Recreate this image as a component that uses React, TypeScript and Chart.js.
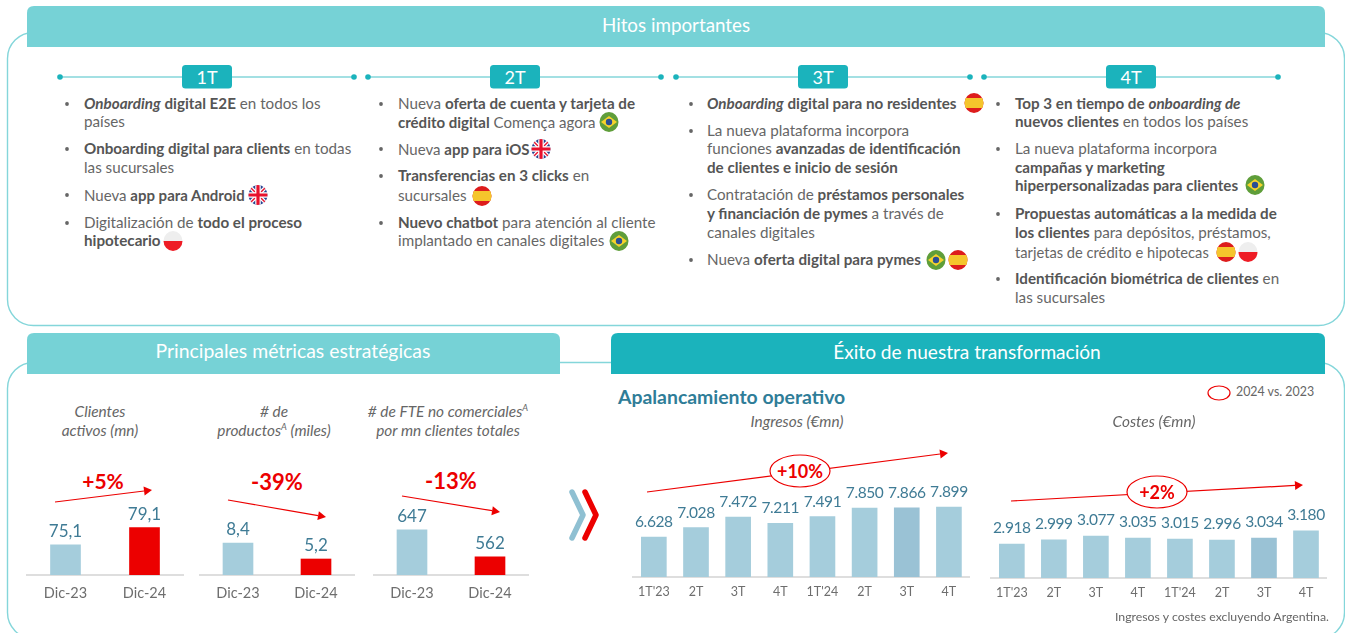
import React, { useEffect, useRef } from "react";
import { Chart, registerables } from "chart.js";

Chart.register(...registerables);

const FONT = "Lato, 'Noto Sans', sans-serif";
const LIGHT = "#a5cddc";
const DARK = "#9ac2d5";
const RED = "#ec0000";
const VALUE = "#3f7b95";

const decCategories = ["Dic-23", "Dic-24"];
const quarterCategories = ["1T'23", "2T", "3T", "4T", "1T'24", "2T", "3T", "4T"];
const clientsValues = [75.1, 79.1];
const productsValues = [8.4, 5.2];
const fteValues = [647, 562];
const incomeValues = [6628, 7028, 7472, 7211, 7491, 7850, 7866, 7899];
const costValues = [2918, 2999, 3077, 3035, 3015, 2996, 3034, 3180];

const miniColors = [LIGHT, RED];
const quarterColors = [LIGHT, LIGHT, LIGHT, LIGHT, LIGHT, LIGHT, DARK, LIGHT];

type Cfg = {
  left: number; top: number; width: number; base: number;
  cats: string[]; vals: number[]; colors: string[];
  min: number; max: number; bar: number; valSize: number; tickSize: number; gap: number; pad: number; ls: number;
};

const charts: Cfg[] = [
  { left: 26, top: 500, width: 158, base: 575, cats: decCategories, vals: clientsValues, colors: miniColors, min: 68, max: 85.6, bar: 30, valSize: 17, tickSize: 14.5, gap: 13, pad: 10, ls: 0 },
  { left: 199, top: 500, width: 156, base: 575, cats: decCategories, vals: productsValues, colors: miniColors, min: 2, max: 17, bar: 30, valSize: 17, tickSize: 14.5, gap: 13, pad: 10, ls: 0 },
  { left: 373, top: 500, width: 156, base: 575, cats: decCategories, vals: fteValues, colors: miniColors, min: 505, max: 741, bar: 30, valSize: 17, tickSize: 14.5, gap: 13, pad: 10, ls: 0 },
  { left: 631, top: 485, width: 339, base: 577, cats: quarterCategories, vals: incomeValues, colors: quarterColors, min: 4932, max: 8833, bar: 25, valSize: 15.5, tickSize: 12.5, gap: 15, pad: 7, ls: -0.4 },
  { left: 989, top: 498, width: 338, base: 578, cats: quarterCategories, vals: costValues, colors: quarterColors, min: 2238, max: 3838, bar: 25, valSize: 15.5, tickSize: 12.5, gap: 16, pad: 7, ls: -0.4 },
];

const bulletDots: [number, number][] = [
  [67, 104], [67, 149], [67, 195], [67, 223],
  [381, 104], [381, 149], [381, 176], [381, 223],
  [691, 104], [691, 131], [691, 195], [691, 260],
  [998, 104], [998, 149], [998, 214], [998, 279],
];

const bodyLines: [number, number, string, number?][] = [
  [84, 104, "~Onboarding~ **digital E2E** en todos los"],
  [84, 122, "países"],
  [84, 149, "**Onboarding digital para clients** en todas"],
  [84, 168, "las sucursales"],
  [84, 195, "Nueva **app para Android**", 15],
  [84, 223, "Digitalización de **todo el proceso**"],
  [84, 241, "**hipotecario**"],
  [398, 104, "Nueva **oferta de cuenta y tarjeta de**"],
  [398, 122, "**crédito digital** Comença agora", 15],
  [398, 149, "Nueva **app para iOS**", 15],
  [398, 176, "**Transferencias en 3 clicks** en"],
  [398, 196, "sucursales"],
  [398, 223, "**Nuevo chatbot** para atención al cliente"],
  [398, 241, "implantado en canales digitales"],
  [707, 104, "~Onboarding~ **digital para no residentes**"],
  [707, 131, "La nueva plataforma incorpora"],
  [707, 149, "funciones **avanzadas de identificación**"],
  [707, 168, "**de clientes e inicio de sesión**"],
  [707, 195, "Contratación de **préstamos personales**"],
  [707, 214, "**y financiación de pymes** a través de"],
  [707, 233, "canales digitales"],
  [707, 260, "Nueva **oferta digital para pymes**"],
  [1015, 104, "**Top 3 en tiempo de** ~onboarding de~"],
  [1015, 122, "**nuevos clientes** en todos los países"],
  [1015, 149, "La nueva plataforma incorpora"],
  [1015, 168, "**campañas y marketing**"],
  [1015, 186, "**hiperpersonalizadas para clientes**"],
  [1015, 214, "**Propuestas automáticas a la medida de**"],
  [1015, 233, "**los clientes** para depósitos, préstamos,"],
  [1015, 252, "tarjetas de crédito e hipotecas", 14.7],
  [1015, 279, "**Identificación biométrica de clientes** en"],
  [1015, 298, "las sucursales"],
];

const quarterPills: [string, number][] = [["1T", 207], ["2T", 515], ["3T", 823], ["4T", 1131]];
const timelines: [number, number][] = [[60, 354], [368, 661], [676, 970], [984, 1278]];

const flagSpots: [string, number, number][] = [
  ["uk", 258, 195], ["pl", 173, 241], ["br", 609, 122], ["uk", 541, 149],
  ["es", 482, 196], ["br", 619, 241], ["es", 974, 103], ["br", 936, 260],
  ["es", 958, 260], ["br", 1255, 185], ["es", 1226, 252], ["pl", 1248, 252],
];

const renderRich = (s: string) => {
  const parts = s.split(/(\*\*[^*]+\*\*|~[^~]+~|\^[^^]+\^)/g).filter(Boolean);
  return parts.map((p, i) => {
    if (p.startsWith("**")) return <b key={i} style={{ fontWeight: 700, color: "#555" }}>{p.slice(2, -2)}</b>;
    if (p.startsWith("~")) return <b key={i} style={{ fontWeight: 700, fontStyle: "italic", color: "#555" }}>{p.slice(1, -1)}</b>;
    if (p.startsWith("^")) return <sup key={i} style={{ fontSize: "0.6em", lineHeight: 0 }}>{p.slice(1, -1)}</sup>;
    return <span key={i}>{p}</span>;
  });
};

const T = ({ x, y, s, size = 15.2, color = "#666", center = false, right = false, bold = false, italic = false }:
  { x: number; y: number; s: string; size?: number; color?: string; center?: boolean; right?: boolean; bold?: boolean; italic?: boolean }) => (
  <div style={{
    position: "absolute", left: x, top: y, whiteSpace: "nowrap", lineHeight: 1, fontSize: size, color,
    fontWeight: bold ? 700 : 400, fontStyle: italic ? "italic" : "normal",
    transform: `translate(${center ? "-50%" : right ? "-100%" : "0"}, -50%)`,
  }}>{renderRich(s)}</div>
);

const Flag = ({ kind, x, y }: { kind: string; x: number; y: number }) => {
  const id = `clip-${kind}-${x}-${y}`;
  return (
    <g transform={`translate(${x} ${y})`}>
      <clipPath id={id}><ellipse cx={0} cy={0} rx={9.5} ry={10} /></clipPath>
      <g clipPath={`url(#${id})`}>
        {kind === "es" && <>
          <rect x={-10} y={-10} width={20} height={20} fill="#dd1c1c" />
          <rect x={-10} y={-5} width={20} height={10} fill="#f5c52c" />
        </>}
        {kind === "pl" && <>
          <rect x={-10} y={-10} width={20} height={10} fill="#eeeeee" />
          <rect x={-10} y={0} width={20} height={10} fill="#ee1c25" />
        </>}
        {kind === "br" && <>
          <rect x={-10} y={-10} width={20} height={20} fill="#5f9e3a" />
          <polygon points="-8,0 0,-6 8,0 0,6" fill="#f6d32c" />
          <circle r={3.2} fill="#2a4f94" />
        </>}
        {kind === "uk" && <>
          <rect x={-10} y={-10} width={20} height={20} fill="#27408f" />
          <path d="M-10,-10L10,10M10,-10L-10,10" stroke="#fff" strokeWidth={4} />
          <path d="M-10,-10L10,10M10,-10L-10,10" stroke="#e8112d" strokeWidth={1.4} />
          <path d="M0,-10V10M-10,0H10" stroke="#fff" strokeWidth={5.5} />
          <path d="M0,-10V10M-10,0H10" stroke="#e8112d" strokeWidth={3.2} />
        </>}
      </g>
    </g>
  );
};

const Arrow = ({ x1, y1, x2, y2 }: { x1: number; y1: number; x2: number; y2: number }) => {
  const a = Math.atan2(y2 - y1, x2 - x1);
  const l = 8, w = 4.5;
  const bx = x2 - l * Math.cos(a), by = y2 - l * Math.sin(a);
  const px = -Math.sin(a) * w, py = Math.cos(a) * w;
  return (
    <g>
      <line x1={x1} y1={y1} x2={bx} y2={by} stroke={RED} strokeWidth={1.2} />
      <polygon points={`${x2},${y2} ${bx + px},${by + py} ${bx - px},${by - py}`} fill={RED} />
    </g>
  );
};

const AXIS_H = 40;

const BarChart = ({ c }: { c: Cfg }) => {
  const ref = useRef<HTMLCanvasElement>(null);
  useEffect(() => {
    const labelPlugin = {
      id: "valueLabels",
      afterDatasetsDraw(chart: any) {
        const ctx = chart.ctx;
        const meta = chart.getDatasetMeta(0);
        ctx.save();
        ctx.font = `${c.valSize}px ${FONT}`;
        (ctx as any).letterSpacing = `${c.ls}px`;
        ctx.fillStyle = VALUE;
        ctx.textAlign = "center";
        ctx.textBaseline = "middle";
        meta.data.forEach((el: any, i: number) => {
          ctx.fillText(c.vals[i].toLocaleString("de-DE"), el.x, el.y - c.gap);
        });
        ctx.restore();
      },
    };
    const chart = new Chart(ref.current!, {
      type: "bar",
      data: {
        labels: c.cats,
        datasets: [{ data: c.vals, backgroundColor: c.colors, barThickness: c.bar, borderWidth: 0 }],
      },
      options: {
        animation: false,
        responsive: false,
        maintainAspectRatio: false,
        layout: { padding: 0 },
        plugins: { legend: { display: false }, tooltip: { enabled: false } },
        scales: {
          y: { display: false, min: c.min, max: c.max },
          x: {
            grid: { display: false, drawTicks: false },
            border: { color: "#dedede", width: 2 },
            afterFit(scale: any) { scale.height = AXIS_H; },
            ticks: {
              color: "#6e6e6e", padding: c.pad, maxRotation: 0, autoSkip: false,
              font: { family: FONT, size: c.tickSize },
            },
          },
        },
      },
      plugins: [labelPlugin],
    } as any);
    return () => chart.destroy();
  }, []);
  return (
    <canvas ref={ref} width={c.width} height={c.base - c.top + AXIS_H}
      style={{ position: "absolute", left: c.left, top: c.top, width: c.width, height: c.base - c.top + AXIS_H }} />
  );
};

const HEAD_L = "#76d2d6";
const HEAD_D = "#1bb3bc";
const OUT = "#84d6da";

const topRound = (x: number, y: number, w: number, h: number, r: number) =>
  `M${x},${y + h}V${y + r}Q${x},${y} ${x + r},${y}H${x + w - r}Q${x + w},${y} ${x + w},${y + r}V${y + h}Z`;

export default function App() {
  return (
    <div style={{ position: "fixed", left: 0, top: 0, width: 1345, height: 633, overflow: "hidden", background: "#fff", fontFamily: FONT }}>
      <svg width={1345} height={633} style={{ position: "absolute", left: 0, top: 0 }}>
        <rect x={7.5} y={32.5} width={1337} height={293} rx={26} fill="none" stroke={OUT} strokeWidth={1.4} />
        <rect x={7.5} y={362.5} width={1337} height={276} rx={26} fill="none" stroke={OUT} strokeWidth={1.4} />
        <path d={topRound(27, 6, 1298, 41, 7)} fill={HEAD_L} />
        <path d={topRound(27, 333, 533, 41, 7)} fill={HEAD_L} />
        <path d={topRound(611, 333, 714, 41, 7)} fill={HEAD_D} />
        {timelines.map(([a, b], i) => (
          <g key={i}>
            <line x1={a} y1={77} x2={b} y2={77} stroke={OUT} strokeWidth={1.6} />
            <circle cx={a} cy={77} r={2.8} fill={HEAD_D} />
            <circle cx={b} cy={77} r={2.8} fill={HEAD_D} />
          </g>
        ))}
        {quarterPills.map(([, cx], i) => (
          <rect key={i} x={cx - 25} y={65} width={50} height={23.5} rx={3.5} fill={HEAD_D} />
        ))}
        {bulletDots.map(([x, y], i) => <circle key={i} cx={x} cy={y} r={1.9} fill="#666" />)}
        {flagSpots.map(([k, x, y], i) => <Flag key={i} kind={k} x={x} y={y} />)}

        <Arrow x1={55} y1={502} x2={152} y2={490} />
        <Arrow x1={228} y1={500} x2={326} y2={517} />
        <Arrow x1={402} y1={496} x2={500} y2={512} />
        <Arrow x1={647} y1={492} x2={948} y2={453} />
        <Arrow x1={1011} y1={501} x2={1303} y2={485} />
        <ellipse cx={800} cy={471} rx={30} ry={16} fill="#fff" stroke={RED} strokeWidth={1.2} />
        <ellipse cx={1157} cy={492} rx={30} ry={16} fill="#fff" stroke={RED} strokeWidth={1.2} />
        <ellipse cx={1219} cy={393} rx={11} ry={7} fill="#fff" stroke={RED} strokeWidth={1.2} />

        <polyline points="572,492 583,515 572,538" fill="none" stroke="#8fc0d2" strokeWidth={5.5} strokeLinecap="round" strokeLinejoin="round" />
        <polyline points="585,492 596,515 585,538" fill="none" stroke={RED} strokeWidth={5.5} strokeLinecap="round" strokeLinejoin="round" />
      </svg>

      {charts.map((c, i) => <BarChart key={i} c={c} />)}

      <T x={676} y={25} s="Hitos importantes" size={18.8} color="#fff" center />
      <T x={293} y={351} s="Principales métricas estratégicas" size={19.4} color="#fff" center />
      <T x={967} y={352} s="Éxito de nuestra transformación" size={19.1} color="#fff" center />
      {quarterPills.map(([q, cx]) => <T key={cx} x={cx} y={77} s={q} size={18} color="#fff" center />)}
      {bodyLines.map(([x, y, s, sz], i) => <T key={i} x={x} y={y} s={s} size={sz ?? 15.2} />)}

      <T x={100} y={412} s="Clientes" size={15.4} italic center />
      <T x={100} y={431} s="activos (mn)" size={15.4} italic center />
      <T x={274} y={412} s="# de" size={15.4} italic center />
      <T x={274} y={431} s="productos^A^ (miles)" size={15.4} italic center />
      <T x={448} y={412} s="# de FTE no comerciales^A^" size={15.4} italic center />
      <T x={448} y={431} s="por mn clientes totales" size={15.4} italic center />

      <T x={103} y={480} s="+5%" size={21} color={RED} bold center />
      <T x={277} y={482} s="-39%" size={22} color={RED} bold center />
      <T x={451} y={481} s="-13%" size={22} color={RED} bold center />
      <T x={800} y={471} s="+10%" size={18} color={RED} bold center />
      <T x={1157} y={492} s="+2%" size={18} color={RED} bold center />

      <T x={618} y={397} s="Apalancamiento operativo" size={19.4} color="#2f7d98" bold />
      <T x={797} y={422} s="Ingresos (€mn)" size={15.4} italic center />
      <T x={1154} y={422} s="Costes (€mn)" size={15.4} italic center />
      <T x={1236} y={392} s="2024 vs. 2023" size={12.4} />
      <T x={1329} y={617} s="Ingresos y costes excluyendo Argentina." size={12.3} right />
    </div>
  );
}
